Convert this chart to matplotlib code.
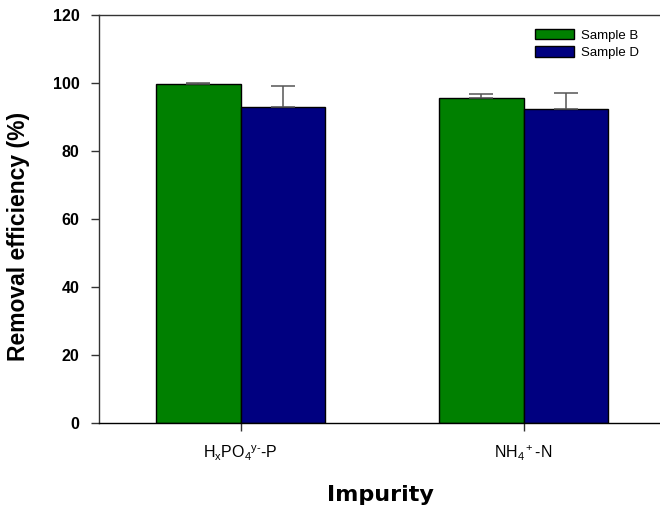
import matplotlib
matplotlib.use("Agg")
import matplotlib.pyplot as plt
import numpy as np

plt.rcParams['font.family'] = ['Liberation Sans', 'DejaVu Sans']
plt.rcParams['mathtext.fontset'] = 'custom'
plt.rcParams['mathtext.rm'] = 'Liberation Sans'
plt.rcParams['mathtext.it'] = 'Liberation Sans'
plt.rcParams['mathtext.default'] = 'regular'

categories = [r'H$_x$PO$_4$$^{\text{y-}}$-P', r'NH$_4$$^+$-N']
series_names = ['Sample B', 'Sample D']
sample_b = [99.6, 95.6]
sample_b_err = [0.3, 1.2]
sample_d = [92.8, 92.5]
sample_d_err = [6.3, 4.5]
y_ticks = [0, 20, 40, 60, 80, 100, 120]

colors = ['#008000', '#000080']

fig = plt.figure(figsize=(6.6, 5.16), dpi=100)
ax = fig.add_axes([99 / 660, 1 - 423 / 516, 566 / 660, (423 - 15) / 516])

x = np.arange(len(categories))
w = 0.3
err_style = dict(ecolor='#555555', elinewidth=1.1, capsize=8.3, capthick=1.1)
ax.bar(x - w / 2, sample_b, w, yerr=[[0, 0], sample_b_err], color=colors[0],
       edgecolor='black', linewidth=1.0, label=series_names[0], error_kw=err_style)
ax.bar(x + w / 2, sample_d, w, yerr=[[0, 0], sample_d_err], color=colors[1],
       edgecolor='black', linewidth=1.0, label=series_names[1], error_kw=err_style)

ax.set_xlim(-0.5, 1.5)
ax.set_ylim(0, 120)
ax.set_yticks(y_ticks)
ax.set_yticklabels([str(v) for v in y_ticks], fontsize=11.5, fontweight='bold')
ax.set_xticks(x)
ax.set_xticklabels(categories, fontsize=11.5)
ax.tick_params(direction='out', length=6, width=1, colors='#333333')
ax.tick_params(axis='both', labelcolor='black')
ax.tick_params(axis='y', pad=8)
ax.tick_params(axis='x', pad=9)

for s in ax.spines.values():
    s.set_color('#333333')
    s.set_linewidth(1.0)
ax.spines['bottom'].set_color('black')

ax.set_ylabel('Removal efficiency (%)', fontsize=16.5, fontweight='bold')
ax.yaxis.set_label_coords(-(99 - 30) / 566, (423 - 236) / 408)
ax.set_xlabel('Impurity', fontsize=16, fontweight='bold', family='DejaVu Sans')
ax.xaxis.set_label_coords((380 - 99) / 566, -(485 - 423) / 408)

leg = ax.legend(loc='upper right', bbox_to_anchor=((648 - 99) / 566, 1 - 5 / 408),
                frameon=False, fontsize=9.5, handlelength=2.9, handleheight=0.8,
                handletextpad=0.55, labelspacing=0.35, borderaxespad=0.3)

fig.savefig('out.png', dpi=100)
